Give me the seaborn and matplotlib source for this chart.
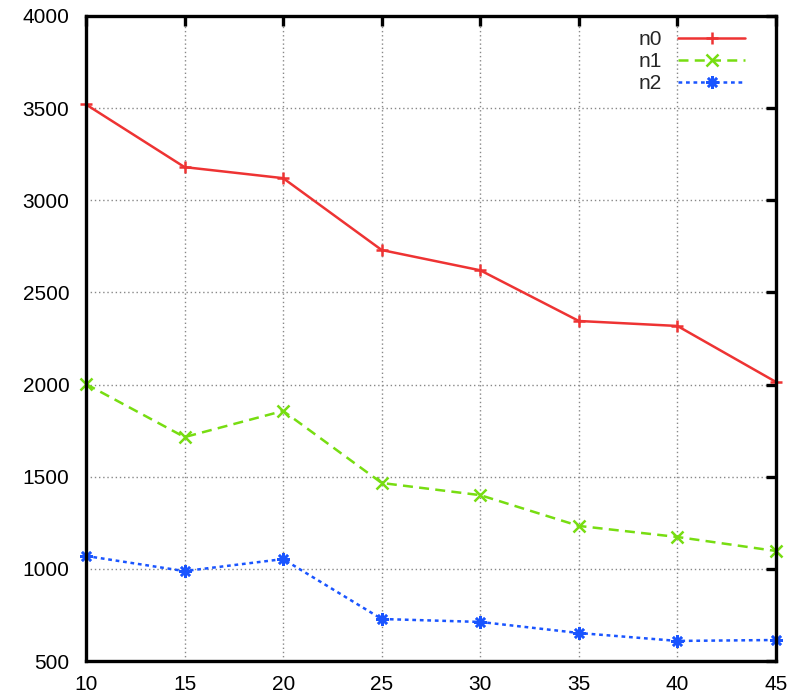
import pandas as pd
import matplotlib
matplotlib.use("Agg")
import matplotlib.pyplot as plt
import seaborn as sns

# values
x = [10, 15, 20, 25, 30, 35, 40, 45]
n0 = [3520, 3180, 3120, 2730, 2620, 2345, 2318, 2014]
n1 = [2003, 1715, 1857, 1466, 1400, 1233, 1173, 1097]
n2 = [1070, 988, 1053, 728, 712, 652, 609, 614]

df = pd.DataFrame({
    "x": x * 3,
    "y": n0 + n1 + n2,
    "series": ["n0"] * len(x) + ["n1"] * len(x) + ["n2"] * len(x),
})

sns.set_style("white")
plt.rcParams["font.family"] = ["Liberation Sans", "DejaVu Sans"]

fig = plt.figure(figsize=(8.02, 6.95), dpi=100)
ax = fig.add_axes([0.1072, 0.0489, 0.8604, 0.9281])

palette = {"n0": "#ee3333", "n1": "#77dd11", "n2": "#1a55ff"}
markers = {"n0": "+", "n1": "x", "n2": (8, 2, 0)}
dashes = {"n0": "", "n1": (4, 2.5), "n2": (1.5, 1.5)}

sns.lineplot(data=df, x="x", y="y", hue="series", style="series",
             palette=palette, markers=markers, dashes=dashes,
             linewidth=1.8, markersize=9, markeredgewidth=1.8,
             ax=ax, clip_on=False)

# seaborn paints marker edges white, give them the line colour
for ln in ax.lines:
    ln.set_markeredgecolor(ln.get_color())

ax.set_xlim(10, 45)
ax.set_ylim(500, 4000)
ax.set_xticks(x)
ax.set_yticks(range(500, 4001, 500))
ax.set_xlabel("")
ax.set_ylabel("")

ax.grid(True, color="#888888", linestyle=(0, (1, 2)), linewidth=1)
for s in ax.spines.values():
    s.set_linewidth(2.4)
    s.set_color("black")
ax.tick_params(direction="in", length=7, width=2.4, labelsize=15,
               top=True, right=True, colors="black")
ax.tick_params(axis="y", pad=12)
ax.tick_params(axis="x", pad=10)

leg = ax.legend(loc="upper right", bbox_to_anchor=(0.967, 0.991),
                frameon=False, markerfirst=False,
                fontsize=15, handlelength=3.2, labelspacing=0.15,
                borderaxespad=0, handletextpad=0.8)
for h in leg.legend_handles:
    h.set_markeredgecolor(h.get_color())

fig.savefig("out.png", dpi=100)
